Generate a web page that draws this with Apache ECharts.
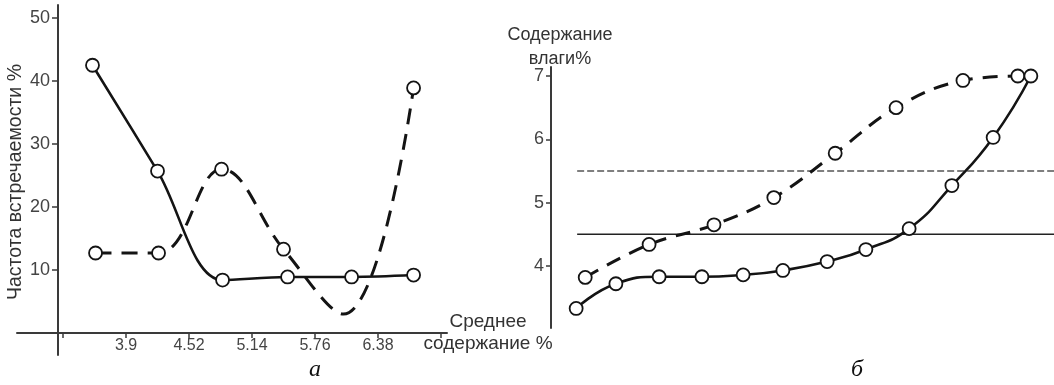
<!DOCTYPE html>
<html>
<head>
<meta charset="utf-8">
<script src="https://cdn.jsdelivr.net/npm/echarts@6/dist/echarts.min.js"></script>
<style>
  html, body { margin: 0; padding: 0; background: #fff; }
  #chart { width: 1054px; height: 385px; }
</style>
</head>
<body>
<div id="chart"></div>
<script>
// panel а: частота встречаемости по классам среднего содержания
const classTicks = [3.28, 3.9, 4.52, 5.14, 5.76, 6.38, 7.0];
const classLabels = [3.9, 4.52, 5.14, 5.76, 6.38];
const freqTicks = [10, 20, 30, 40, 50];
const solidAx = [3.57, 4.21, 4.85, 5.49, 6.12, 6.73];
const solidAy = [42.5, 25.7, 8.4, 8.9, 8.9, 9.2];
const dashAx = [3.6, 4.22, 4.84, 5.45, 6.04, 6.73];
const dashAy = [12.7, 12.7, 26.0, 13.3, 3.0, 38.9];
const dashAmarked = [true, true, true, true, false, true];

// panel б: содержание влаги
const moistTicks = [4, 5, 6, 7];
const solidBx = [5.0, 12.9, 21.5, 30.0, 38.2, 46.1, 54.9, 62.6, 71.2, 79.7, 87.9, 95.4];
const solidBy = [3.33, 3.72, 3.83, 3.83, 3.86, 3.93, 4.07, 4.26, 4.59, 5.27, 6.03, 7.0];
const dashBx = [6.8, 19.5, 32.4, 44.3, 56.5, 68.6, 81.9, 92.8];
const dashBy = [3.82, 4.34, 4.65, 5.08, 5.78, 6.5, 6.93, 7.0];
const limitUpper = 5.5;
const limitLower = 4.5;
const limitFrom = 5.2;
const limitTo = 100;

const zip = (xs, ys) => xs.map((x, i) => [x, ys[i]]);

const font = '"Liberation Sans", Arial, sans-serif';
const ink = '#141414';
const axisInk = '#3a3a3a';
const marker = { color: '#fff', borderColor: ink, borderWidth: 1.8 };

const chart = echarts.init(document.getElementById('chart'));

const panelLabel = (text, left) => ({
    text: text,
    left: left,
    top: 358,
    padding: 0,
    textStyle: {
        fontFamily: '"Liberation Serif", "DejaVu Serif", serif',
        fontStyle: 'italic',
        fontWeight: 'normal',
        fontSize: 24,
        color: '#111'
    }
});

const option = {
    animation: false,
    backgroundColor: '#fff',
    title: [panelLabel('а', 309), panelLabel('б', 851)],
    grid: [
        { left: 17, top: 5, width: 430, height: 328 },
        { left: 551, top: 67, right: 0, height: 261 },
        // y-axis of panel а runs a little below the x-axis
        { left: 58, top: 333, width: 10, height: 22 }
    ],
    xAxis: [
        {
            gridIndex: 0,
            type: 'value',
            min: 2.827,
            max: 7.059,
            axisLine: { onZero: false, lineStyle: { color: axisInk, width: 2 } },
            axisTick: { customValues: classTicks, length: 5, lineStyle: { color: axisInk, width: 1.5 } },
            axisLabel: {
                customValues: classLabels,
                formatter: v => String(v),
                fontFamily: font,
                fontSize: 16,
                color: '#444',
                margin: 5
            },
            splitLine: { show: false },
            name: 'Среднее\nсодержание %',
            nameLocation: 'end',
            nameGap: 41,
            nameMoveOverlap: false,
            nameTextStyle: {
                fontFamily: font,
                fontSize: 19,
                lineHeight: 22,
                color: '#333',
                align: 'center',
                verticalAlign: 'middle'
            }
        },
        { gridIndex: 1, type: 'value', min: 0, max: 100, show: false },
        { gridIndex: 2, type: 'value', min: 0, max: 1, show: false }
    ],
    yAxis: [
        {
            gridIndex: 0,
            type: 'value',
            min: 0,
            max: 52.06,
            offset: -41,
            axisLine: { show: true, onZero: false, lineStyle: { color: axisInk, width: 2 } },
            axisTick: { customValues: freqTicks, length: 6, lineStyle: { color: axisInk, width: 1.5 } },
            axisLabel: { customValues: freqTicks, fontFamily: font, fontSize: 18, color: '#444', margin: 8 },
            splitLine: { show: false },
            name: 'Частота встречаемости %',
            nameLocation: 'middle',
            nameGap: 32,
            nameRotate: 90,
            nameTextStyle: { fontFamily: font, fontSize: 19.5, color: '#333', padding: [0, 26, 0, 0] }
        },
        {
            gridIndex: 1,
            type: 'value',
            min: 3.021,
            max: 7.142,
            axisLine: { show: true, onZero: false, lineStyle: { color: axisInk, width: 2 } },
            axisTick: { customValues: moistTicks, length: 5, lineStyle: { color: axisInk, width: 1.5 } },
            axisLabel: { customValues: moistTicks, fontFamily: font, fontSize: 18, color: '#444', margin: 7 },
            splitLine: { show: false },
            name: 'Содержание\nвлаги%',
            nameLocation: 'end',
            nameGap: -4,
            nameMoveOverlap: false,
            nameTextStyle: {
                fontFamily: font,
                fontSize: 18,
                lineHeight: 24,
                color: '#333',
                align: 'center',
                padding: [0, 0, 0, 18]
            }
        },
        {
            gridIndex: 2,
            type: 'value',
            min: 0,
            max: 1,
            axisLine: { show: true, onZero: false, lineStyle: { color: axisInk, width: 2 } },
            axisTick: { show: false },
            axisLabel: { show: false },
            splitLine: { show: false }
        }
    ],
    series: [
        {
            type: 'line',
            xAxisIndex: 1,
            yAxisIndex: 1,
            data: [[limitFrom, limitUpper], [limitTo, limitUpper]],
            symbol: 'none',
            lineStyle: { color: '#555', width: 1.5, type: [7, 3] },
            silent: true
        },
        {
            type: 'line',
            xAxisIndex: 1,
            yAxisIndex: 1,
            data: [[limitFrom, limitLower], [limitTo, limitLower]],
            symbol: 'none',
            lineStyle: { color: '#222', width: 1.5 },
            silent: true
        },
        {
            type: 'line',
            xAxisIndex: 0,
            yAxisIndex: 0,
            data: zip(dashAx, dashAy).map((p, i) => ({
                value: p,
                symbol: dashAmarked[i] ? 'circle' : 'none'
            })),
            smooth: 0.4,
            symbol: 'circle',
            symbolSize: 13,
            lineStyle: { color: ink, width: 3, type: [16, 10] },
            itemStyle: marker
        },
        {
            type: 'line',
            xAxisIndex: 0,
            yAxisIndex: 0,
            data: zip(solidAx, solidAy),
            smooth: 0.35,
            symbol: 'circle',
            symbolSize: 13,
            lineStyle: { color: ink, width: 2.6 },
            itemStyle: marker
        },
        {
            type: 'line',
            xAxisIndex: 1,
            yAxisIndex: 1,
            data: zip(dashBx, dashBy),
            smooth: 0.4,
            symbol: 'circle',
            symbolSize: 13,
            lineStyle: { color: ink, width: 3, type: [15, 10] },
            itemStyle: marker
        },
        {
            type: 'line',
            xAxisIndex: 1,
            yAxisIndex: 1,
            data: zip(solidBx, solidBy),
            smooth: 0.5,
            symbol: 'circle',
            symbolSize: 13,
            lineStyle: { color: ink, width: 2.6 },
            itemStyle: marker
        }
    ]
};

chart.setOption(option);
</script>
</body>
</html>
